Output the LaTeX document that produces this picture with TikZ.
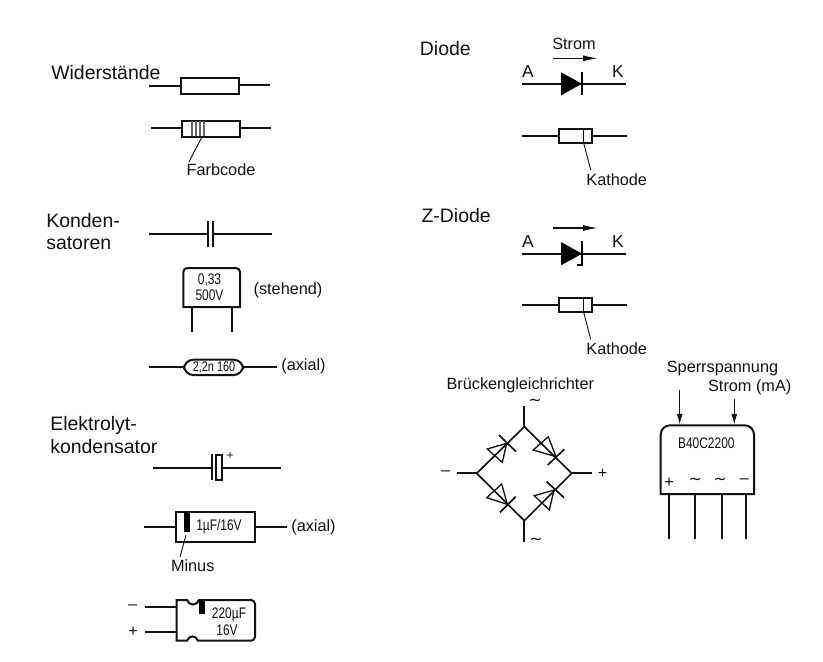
\documentclass[tikz,border=0pt]{standalone}
\usepackage{fontspec}
\setmainfont{Liberation Sans}
\newfontfamily\narrowfont[FakeStretch=0.78]{Liberation Sans}
\newfontfamily\symfont{DejaVu Sans}
\usetikzlibrary{arrows.meta}
\definecolor{ink}{HTML}{111111}
\tikzset{
  lead/.style={line width=1.7pt,ink},
  thinlead/.style={line width=1.25pt,ink},
  part/.style={line width=1.5pt,ink,fill=white},
  leader/.style={line width=.7pt,ink},
  band/.style={line width=1.25pt,black!60},
  heading/.style={anchor=base west,inner sep=0pt,font=\fontsize{14.6pt}{16pt}\selectfont,text=ink},
  label/.style={inner sep=0pt,font=\fontsize{12.2pt}{14pt}\selectfont,text=ink},
  small/.style={inner sep=0pt,font=\narrowfont\fontsize{11.5pt}{12pt}\selectfont,text=ink},
  tilde/.style={inner sep=0pt,font=\symfont\fontsize{12pt}{14pt}\selectfont,text=ink},
  flow/.style={line width=.8pt,ink,-{Latex[length=11pt,width=4.5pt]}},
  down/.style={line width=.9pt,ink,-{Latex[length=8pt,width=4.5pt]}},
  dio/.style={line width=1pt,ink,line join=miter},
}
\begin{document}
\begin{tikzpicture}[x=.75pt,y=-.75pt]
\useasboundingbox (0,0) rectangle (823,661);
% ---------- Widerstaende
\node[heading] (hW) at (51,79) {Widerstände};
\draw[lead] (149,85.7) -- (180,85.7);
\draw[lead] (239,85.2) -- (270,85.2);
\draw[part] (180.5,78) rectangle (239,93.5);
\draw[lead] (151,128.3) -- (182,128.3);
\draw[lead] (240,128) -- (271,128);
\draw[part] (182,120.5) rectangle (240,136.5);
\foreach \bx in {192.3,196.3,200.2,204.2} \draw[band] (\bx,121.2) -- (\bx,135.8);
\coordinate (fcA) at (201.7,137.5);
\node[label] (fc) at (221,170) {Farbcode};
\draw[leader] (fcA) -- (189,161.7);
% ---------- Kondensatoren
\node[heading] (hK1) at (46,227) {Konden-};
\node[heading] (hK2) at (46,249.5) {satoren};
\draw[lead] (149,233.7) -- (207.7,233.7);
\draw[lead] (212.7,233.7) -- (272,233.7);
\draw[lead] (207.7,221) -- (207.7,246.7);
\draw[lead] (212.7,221) -- (212.7,246.7);
\draw[thinlead] (192,307) -- (192,332);
\draw[thinlead] (232,307) -- (232,332);
\draw[part] (183.3,307) [rounded corners=3pt] -- (183.3,268) -- (240,268) [sharp corners] -- (240,307) -- cycle;
\node[small] (c1) at (209.5,280) {0,33};
\node[small] (c2) at (209.5,295) {500V};
\node[label] (st) at (288,290) {(stehend)};
\draw[lead] (149,367) -- (184,367);
\draw[lead] (243,367) -- (277,367);
\draw[part,rounded corners=7pt] (184,359.7) rectangle (243,375);
\node[small,font=\narrowfont\fontsize{10.5pt}{12pt}\selectfont] (c3) at (214,367.5) {2,2n 160};
\node[label] (ax1) at (303.5,366) {(axial)};
% ---------- Elektrolytkondensator
\node[heading] (hE1) at (50,430) {Elektrolyt-};
\node[heading] (hE2) at (50,453) {kondensator};
\draw[lead] (153,467.7) -- (212,467.7);
\draw[lead] (221.7,467.7) -- (280.7,467.7);
\draw[lead] (212,454) -- (212,480);
\draw[part] (216,454.5) rectangle (221.7,479.5);
\node[inner sep=0pt,font=\fontsize{9pt}{9pt}\selectfont,text=ink] (pl) at (230,456) {+};
\draw[lead] (144,527) -- (175.7,527);
\draw[lead] (255,527) -- (286.7,527);
\draw[part] (175.7,511.7) rectangle (255,542);
\fill[black] (184.3,512) rectangle (189.7,531.7);
\node[small] (e1) at (219,526.7) {1µF/16V};
\node[label] (ax2) at (313.5,527) {(axial)};
\node[label] (mi) at (192.7,565.7) {Minus};
\coordinate (miA) at (186,535);
\draw[leader] (miA) -- (180,557);
\draw[lead] (145,607.3) -- (176.7,607.3);
\draw[lead] (145,631.7) -- (176.7,631.7);
\node[label] (em) at (132.7,607) {–};
\node[label] (ep) at (133,632) {+};
\draw[part] (176.7,600) -- (187,600) .. controls (189,606) and (197,606) .. (199,600)
  [rounded corners=3pt] -- (255,600) -- (255,640.7) [sharp corners] -- (198,640.7)
  .. controls (196,635) and (189,635) .. (187,640.7) -- (176.7,640.7) -- cycle;
\fill[black] (199.3,600) rectangle (205.3,614);
\node[small] (e2) at (229,614.5) {220µF};
\node[small] (e3) at (227,630) {16V};
% ---------- Diode
\node[heading,anchor=base east] (hD) at (471,55) {Diode};
\node[label] (str) at (574,44) {Strom};
\coordinate (f1a) at (552.7,58.3);
\coordinate (f1b) at (597.7,58.3);
\draw[flow] (f1a) -- (f1b);
\node[label,font=\fontsize{13pt}{14pt}\selectfont] (dA) at (528,72) {A};
\node[label,font=\fontsize{13pt}{14pt}\selectfont] (dK) at (618,72) {K};
\draw[lead] (521.7,83.7) -- (626,83.7);
\fill[black] (561,72.3) -- (582,83.7) -- (561,95.3) -- cycle;
\draw[line width=2.2pt,black] (582,72.3) -- (582,95.3);
\draw[lead] (521.7,136) -- (558.7,136);
\draw[lead] (592.3,136) -- (626.7,136);
\draw[part] (558.7,128.7) rectangle (592.3,143);
\draw[line width=.8pt,ink] (583.7,128.7) -- (583.7,143);
\coordinate (kaA) at (583.7,143);
\node[label] (ka1) at (616.7,180) {Kathode};
\draw[leader] (kaA) -- (590.7,170);
% ---------- Z-Diode
\node[heading,anchor=base east] (hZ) at (491,222.7) {Z-Diode};
\coordinate (f2a) at (552.7,228);
\coordinate (f2b) at (597.7,228);
\draw[flow] (f2a) -- (f2b);
\node[label,font=\fontsize{13pt}{14pt}\selectfont] (zA) at (528,241.7) {A};
\node[label,font=\fontsize{13pt}{14pt}\selectfont] (zK) at (618,241.7) {K};
\draw[lead] (521.7,253.7) -- (626,253.7);
\fill[black] (561,242) -- (582,253.7) -- (561,265.3) -- cycle;
\draw[line width=2.2pt,black] (582,241) -- (582,265) -- (576.7,265);
\draw[thinlead] (521.7,305.3) -- (558.7,305.3);
\draw[thinlead] (592.3,305.3) -- (626.7,305.3);
\draw[part] (558.7,298.3) rectangle (592.3,312.3);
\draw[line width=.8pt,ink] (583.7,298.3) -- (583.7,312.3);
\coordinate (kbA) at (583.7,312.3);
\node[label] (ka2) at (616.7,348.7) {Kathode};
\draw[leader] (kbA) -- (590.7,339.3);
% ---------- Brueckengleichrichter
\node[label] (br) at (520.3,385.7) {Brückengleichrichter};
\coordinate (T) at (524.3,426.7);
\coordinate (L) at (476.7,473.3);
\coordinate (R) at (571.7,473.3);
\coordinate (B) at (524.3,520.7);
\draw[thinlead] (T) -- (R) -- (B) -- (L) -- cycle;
\draw[thinlead] (T) -- (524.3,405.7);
\draw[thinlead] (B) -- (524.3,541.7);
\draw[thinlead] (L) -- (457.3,473.3);
\draw[thinlead] (R) -- (591.7,473.3);
\node[label] (bm) at (445.7,473) {–};
\node[label] (bp) at (602.7,473.3) {+};
\node[tilde] (bt) at (535,402.7) {∼};
\node[tilde] (bb) at (536,541) {∼};
\draw[dio] (506.7,443.3) -- (487.3,449) -- (502.3,462.3) -- cycle;
\draw[thinlead] (499,435) -- (516,451.7);
\draw[dio] (556,456.7) -- (533.3,450) -- (548.3,436.7) -- cycle;
\draw[thinlead] (547.7,465) -- (564.3,449.3);
\draw[dio] (507.3,504.3) -- (486.7,497.7) -- (501.7,484) -- cycle;
\draw[thinlead] (500,512.3) -- (515.7,496.7);
\draw[dio] (554,490) -- (534.3,495.7) -- (549.3,510) -- cycle;
\draw[thinlead] (546.7,481.7) -- (564,497.7);
% ---------- B40C2200
\node[label] (sp) at (722.5,368.3) {Sperrspannung};
\node[label] (sm) at (749.7,387.7) {Strom (mA)};
\foreach \lx in {669,695,721.7,746} \draw[thinlead] (\lx,494) -- (\lx,539.3);
\draw[part] (660.7,494) [rounded corners=7pt] -- (660.7,425.3) -- (754,425.3) [sharp corners] -- (754,494) -- cycle;
\coordinate (a1) at (679.7,390);
\coordinate (a2) at (679.7,424.5);
\coordinate (b1) at (734.3,399.3);
\coordinate (b2) at (734.3,424.5);
\draw[down] (a1) -- (a2);
\draw[down] (b1) -- (b2);
\node[small] (bc) at (706.3,443.7) {B40C2200};
\node[label] (g1) at (669,482.7) {+};
\node[tilde] (g2) at (695.3,481.5) {∼};
\node[tilde] (g3) at (720,481.5) {∼};
\node[label] (g4) at (744.3,481) {–};
\end{tikzpicture}
\end{document}
